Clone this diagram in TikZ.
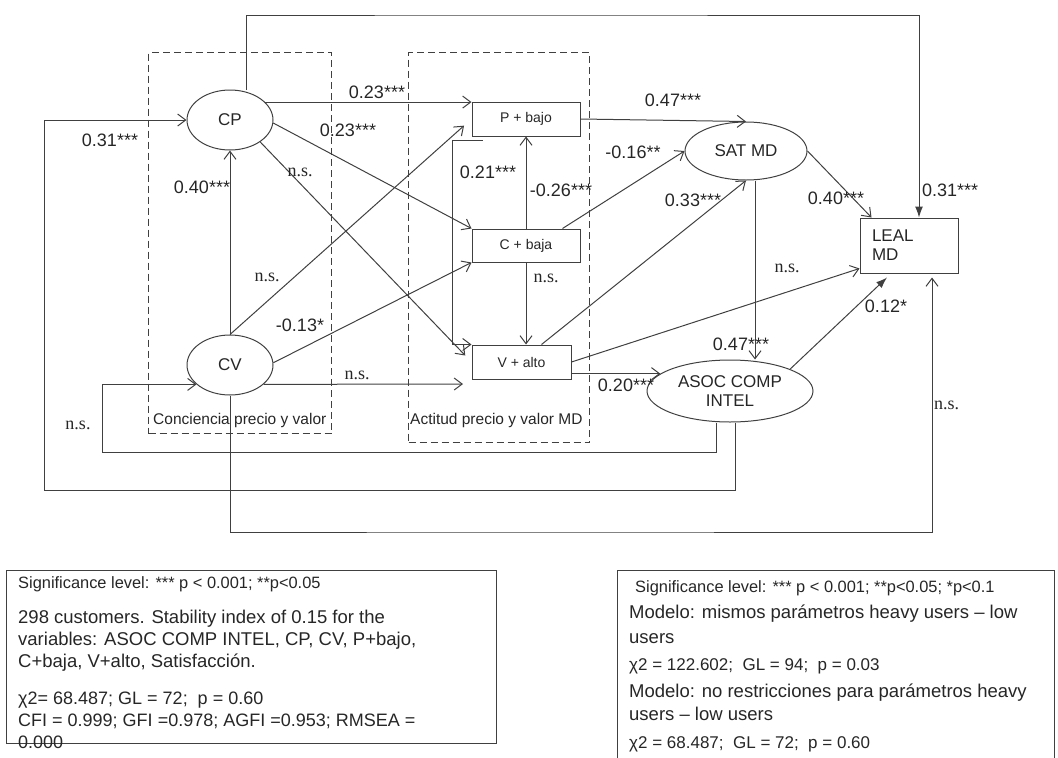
\documentclass[tikz,border=0pt]{standalone}
\usepackage{fontspec}
\setmainfont{Liberation Sans}
\newfontfamily\serifns{Liberation Serif}
\usetikzlibrary{shapes.geometric, arrows.meta, positioning, calc}
\tikzstyle{latent} = [ellipse, draw=black!75, line width=1pt, inner sep=0pt, align=center, font=\fontsize{17}{19}\selectfont]
\tikzstyle{block} = [rectangle, draw=black!75, line width=1pt, inner sep=0pt, align=center, font=\fontsize{14}{16}\selectfont]
\tikzstyle{group} = [rectangle, draw=black!75, line width=1pt, dash pattern=on 7pt off 4pt]
\tikzstyle{grouplabel} = [inner sep=0pt, anchor=base west, font=\fontsize{15.5}{17}\selectfont]
\tikzstyle{arrow} = [line width=1pt, draw=black!75, -{Straight Barb[length=8pt,width=12pt]}]
\tikzstyle{farrow} = [line width=1pt, draw=black!75, -{Latex[length=11pt,width=8pt]}]
\tikzstyle{coef} = [inner sep=0pt, font=\fontsize{18}{20}\selectfont]
\tikzstyle{ns} = [inner sep=0pt, font=\serifns\fontsize{18}{20}\selectfont]
\tikzstyle{note} = [rectangle, draw=black!75, line width=1pt]
\tikzstyle{notetext} = [inner sep=0pt, align=left, anchor=base west, font=\fontsize{18.5}{22}\selectfont]

\begin{document}
\begin{tikzpicture}[x=1pt, y=-1pt, every node/.style={text=black!85}]
        \useasboundingbox (0,0) rectangle (1058,758);

        % dashed groups
        \node[group, minimum width=183, minimum height=381, anchor=north west] (conc) at (148,52) {};
        \node[group, minimum width=181, minimum height=390, anchor=north west] (acti) at (408,52) {};
        \node[grouplabel] (concl) at ([xshift=5pt,yshift=10pt]conc.south west) {Conciencia precio y valor};
        \node[grouplabel] (actil) at ([xshift=2pt,yshift=19pt]acti.south west) {Actitud precio y valor MD};

        % constructs
        \node[latent, minimum width=86, minimum height=60] (cp) at (230,120) {CP};
        \node[latent, minimum width=86, minimum height=60] (cv) at (230,365) {CV};
        \node[block, minimum width=108, minimum height=34] (pb) at (526,119) {P + bajo};
        \node[block, minimum width=108, minimum height=33] (cb) at (526,245.5) {C + baja};
        \node[block, minimum width=99, minimum height=34] (va) at (521.5,362) {V + alto};
        \node[latent, minimum width=122, minimum height=58] (sat) at (746,151) {SAT MD};
        \node[latent, minimum width=166, minimum height=62] (asoc) at (730,391) {ASOC COMP\\INTEL};
        \node[block, minimum width=98, minimum height=55, text width=74, align=left, font=\fontsize{17}{19}\selectfont] (leal) at (909,245.5) {LEAL\\MD};

        \coordinate (top) at (500,15);
        \coordinate (loopa) at (44,490);
        \coordinate (loopb) at (102,452);
        \coordinate (cvend) at (463,384);
        \coordinate (cvlow) at (500,532);

        % paths
        \draw[farrow] ([xshift=16pt]cp.north) |- (top) -| ([xshift=10pt]leal.north);
        \draw[arrow] (cp.27) -- (cp.27 -| pb.west);
        \draw[arrow] (cp.-4) -- (cb.north west);
        \draw[arrow, shorten >=9pt] (cp.-36) -- (va.west);
        \draw[arrow] (cv.north) -- (cp.south);
        \draw[arrow, shorten >=10pt] (cv.north) -- (pb.west);
        \draw[arrow] (cv.3) -- (cb.south west);
        \draw[arrow] (cv.-30) -- (cvend);
        \draw[arrow] (cb.north) -- (pb.south);
        \draw[arrow] ([xshift=11pt,yshift=-4pt]pb.south west) -- ++(-30,0) |- (va.north west);
        \draw[arrow] (cb.south) -- (cb.south |- va.north);
        \draw[arrow] (pb.east) -- (sat.north);
        \draw[arrow] ([xshift=-18pt]cb.north east) -- (sat.west);
        \draw[arrow] ([xshift=20pt]va.north) -- (sat.south);
        \draw[arrow] (sat.east) -- ([xshift=12pt]leal.north west);
        \draw[arrow] ([xshift=9pt]sat.south) -- ([xshift=9pt]sat.south |- asoc.north);
        \draw[arrow] (va.east) -- ([yshift=5pt]leal.south west);
        \draw[arrow] (va.east |- asoc.166) -- (asoc.166);
        \draw[farrow] (asoc.20) -- ([xshift=-22pt,yshift=-4pt]leal.south);
        \draw[arrow] (cv.south) |- (cvlow) -| ([xshift=23pt,yshift=-4pt]leal.south);
        \draw[arrow] ([xshift=5pt]asoc.south) |- (loopa) |- (cp.west);
        \draw[arrow] ([xshift=-14pt]asoc.south) |- (loopb) |- (cv.210);

        % coefficients
        \node[coef] (c1) at (110,140) {0.31***};
        \node[coef] (c2) at (202,187) {0.40***};
        \node[coef] (c3) at (377,92) {0.23***};
        \node[coef] (c4) at (348,130) {0.23***};
        \node[ns] (n1) at (300,172) {n.s.};
        \node[ns] (n2) at (267,277) {n.s.};
        \node[coef] (c5) at (300,325) {-0.13*};
        \node[ns] (n3) at (357,375) {n.s.};
        \node[coef] (c6) at (488,172) {0.21***};
        \node[coef] (c7) at (561,190) {-0.26***};
        \node[ns] (n4) at (546,278) {n.s.};
        \node[coef] (c8) at (673,100) {0.47***};
        \node[coef] (c9) at (633,152) {-0.16**};
        \node[coef] (c10) at (693,200) {0.33***};
        \node[coef] (c11) at (836,198) {0.40***};
        \node[coef, anchor=west] (c12) at (922,190) {0.31***};
        \node[ns] (n5) at (787,268) {n.s.};
        \node[coef] (c13) at (741,344) {0.47***};
        \node[coef] (c14) at (626,385) {0.20***};
        \node[coef] (c15) at (886,306) {0.12*};
        \node[ns, anchor=west] (n6) at (934,405) {n.s.};
        \node[ns] (n7) at (78,425) {n.s.};

        % fit notes
        \node[note, minimum width=490, minimum height=173, anchor=north west] (fitl) at (6,570) {};
        \node[notetext, font=\fontsize{16.4}{20}\selectfont] (sigl) at (18,588) {Significance level: *** p < 0.001; **p<0.05};
        \node[notetext] (custl) at (18,667) {298 customers. Stability index of 0.15 for the\\variables: ASOC COMP INTEL, CP, CV, P+bajo,\\C+baja, V+alto, Satisfacción.};
        \node[notetext, font=\fontsize{18}{22}\selectfont] (fitst) at (18,748) {χ2= 68.487; GL = 72;\ \ p = 0.60\\CFI = 0.999; GFI =0.978; AGFI =0.953; RMSEA =\\0.000};

        \node[note, minimum width=437, minimum height=200, anchor=north west] (fitr) at (617,570) {};
        \node[notetext, font=\fontsize{16.4}{20}\selectfont] (sigr) at (635,592) {Significance level: *** p < 0.001; **p<0.05; *p<0.1};
        \node[notetext, font=\fontsize{18.5}{25}\selectfont] (mod1) at (629,643) {Modelo: mismos parámetros heavy users – low\\users};
        \node[notetext, font=\fontsize{17}{20}\selectfont] (chi1) at (629,670) {χ2 = 122.602;\ \ GL = 94;\ \ p = 0.03};
        \node[notetext, font=\fontsize{18.5}{23}\selectfont] (mod2) at (629,720) {Modelo: no restricciones para parámetros heavy\\users – low users};
        \node[notetext, font=\fontsize{17}{20}\selectfont] (chi2) at (629,748) {χ2 = 68.487;\ \ GL = 72;\ \ p = 0.60};
    \end{tikzpicture}
\end{document}
